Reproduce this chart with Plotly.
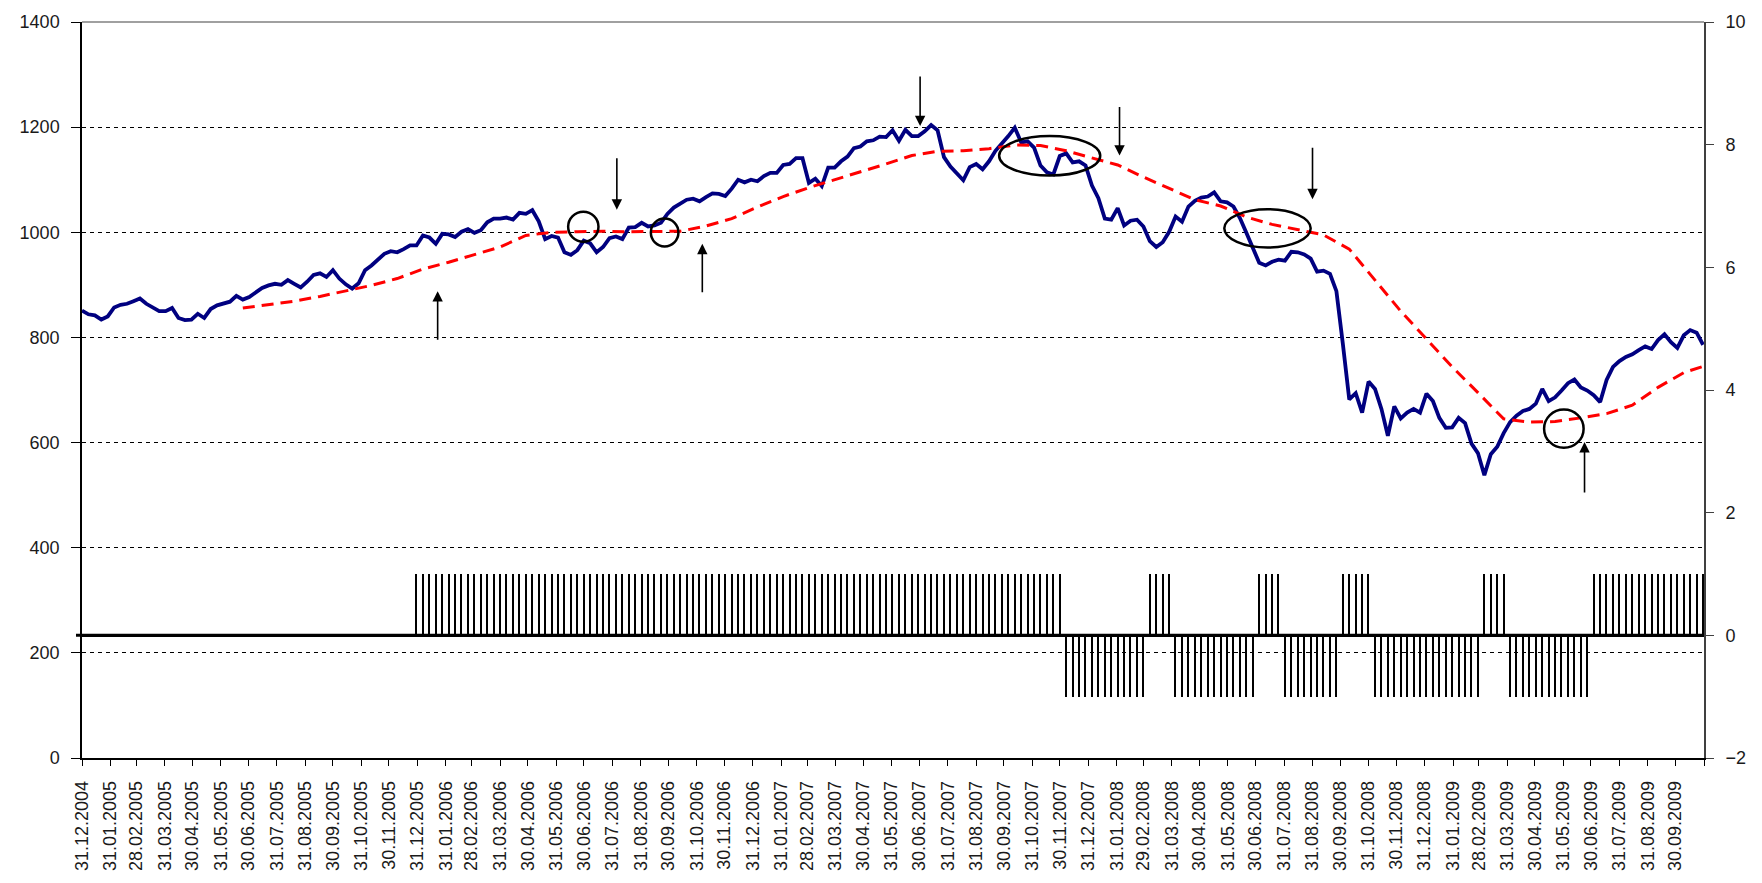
import pandas as pd
import plotly.graph_objects as go

# ---------------- data ----------------
START = "2004-12-31"          # first weekly observation (Fridays)

# weekly index level, left axis
PRICE = [
    851, 844, 842, 834, 840, 857, 862, 864, 869, 874,
    864, 857, 850, 850, 856, 837, 833, 834, 845, 837,
    854, 861, 864, 868, 879, 872, 877, 886, 894, 899,
    902, 900, 909, 902, 895, 906, 919, 922, 915, 928,
    912, 901, 893, 903, 928, 937, 948, 959, 964, 962,
    968, 975, 975, 994, 990, 978, 997, 996, 991, 1001,
    1006, 999, 1004, 1019, 1026, 1026, 1028, 1024, 1037, 1035,
    1042, 1021, 987, 993, 990, 962, 957, 966, 984, 979,
    962, 972, 989, 992, 987, 1009, 1010, 1018, 1011, 1013,
    1018, 1035, 1047, 1055, 1062, 1064, 1059, 1067, 1074, 1073,
    1069, 1083, 1100, 1095, 1100, 1097, 1107, 1113, 1113, 1128,
    1130, 1141, 1141, 1094, 1102, 1088, 1123, 1123, 1135, 1144,
    1160, 1163, 1173, 1175, 1182, 1181, 1194, 1174, 1195, 1183,
    1183, 1192, 1204, 1194, 1143, 1125, 1112, 1099, 1124, 1130,
    1120, 1135, 1155, 1168, 1183, 1199, 1171, 1173, 1161, 1127,
    1114, 1110, 1145, 1150, 1133, 1135, 1127, 1089, 1065, 1026,
    1024, 1046, 1013, 1022, 1024, 1011, 983, 972, 981, 1001,
    1030, 1020, 1049, 1060, 1066, 1068, 1076, 1059, 1057, 1049,
    1027, 999, 969, 942, 937, 944, 948, 946, 963, 962,
    958, 950, 925, 927, 921, 888, 788, 682, 694, 657,
    716, 702, 664, 613, 669, 646, 657, 664, 657, 693,
    679, 647, 628, 629, 647, 637, 598, 580, 538, 578,
    592, 618, 639, 651, 660, 664, 674, 702, 679, 686,
    699, 713, 720, 705, 699, 690, 677, 719, 744, 755,
    763, 768, 776, 783, 778, 795, 806, 791, 780, 804,
    814, 809, 786,
]

# moving average (red dashed), read every 4th week
MA_WEEK = [25, 29, 33, 37, 41, 45, 49, 53, 57, 61, 65, 69, 73, 77, 81, 85,
           89, 93, 97, 101, 105, 109, 113, 117, 121, 125, 129, 133, 137,
           141, 145, 149, 153, 157, 161, 165, 169, 173, 177, 181, 185, 189,
           193, 197, 201, 205, 209, 213, 217, 221, 225, 229, 233, 237, 241,
           245, 249, 252]
MA_VALUE = [856, 862, 869, 878, 888, 899, 912, 930, 943, 957, 972, 994,
            1000, 1001, 1002, 1001, 1001, 1002, 1012, 1026, 1048, 1068,
            1085, 1100, 1114, 1130, 1146, 1154, 1155, 1159, 1166, 1165,
            1155, 1142, 1128, 1105, 1084, 1062, 1050, 1029, 1015, 1005,
            995, 968, 909, 850, 797, 744, 695, 645, 639, 640, 647, 655,
            671, 705, 733, 745]

# trading signal (right axis), weekly from week 52 on
SIGNAL_START_WEEK = 52
SIGNAL = [
    1, 1, 1, 1, 1, 1, 1, 1, 1, 1,
    1, 1, 1, 1, 1, 1, 1, 1, 1, 1,
    1, 1, 1, 1, 1, 1, 1, 1, 1, 1,
    1, 1, 1, 1, 1, 1, 1, 1, 1, 1,
    1, 1, 1, 1, 1, 1, 1, 1, 1, 1,
    1, 1, 1, 1, 1, 1, 1, 1, 1, 1,
    1, 1, 1, 1, 1, 1, 1, 1, 1, 1,
    1, 1, 1, 1, 1, 1, 1, 1, 1, 1,
    1, 1, 1, 1, 1, 1, 1, 1, 1, 1,
    1, 1, 1, 1, 1, 1, 1, 1, 1, 1,
    1,
    -1, -1, -1, -1, -1, -1, -1, -1, -1, -1, -1, -1, -1,
    1, 1, 1, 1,
    -1, -1, -1, -1, -1, -1, -1, -1, -1, -1, -1, -1, -1,
    1, 1, 1, 1,
    -1, -1, -1, -1, -1, -1, -1, -1, -1,
    1, 1, 1, 1, 1,
    -1, -1, -1, -1, -1, -1, -1, -1, -1, -1, -1, -1, -1, -1, -1, -1, -1,
    1, 1, 1, 1,
    -1, -1, -1, -1, -1, -1, -1, -1, -1, -1, -1, -1, -1,
    1, 1, 1, 1, 1, 1, 1, 1, 1, 1, 1, 1, 1, 1, 1, 1, 1, 1,
]

TICK_LABELS = [
    "31.12.2004", "31.01.2005", "28.02.2005", "31.03.2005", "30.04.2005",
    "31.05.2005", "30.06.2005", "31.07.2005", "31.08.2005", "30.09.2005",
    "31.10.2005", "30.11.2005", "31.12.2005", "31.01.2006", "28.02.2006",
    "31.03.2006", "30.04.2006", "31.05.2006", "30.06.2006", "31.07.2006",
    "31.08.2006", "30.09.2006", "31.10.2006", "30.11.2006", "31.12.2006",
    "31.01.2007", "28.02.2007", "31.03.2007", "30.04.2007", "31.05.2007",
    "30.06.2007", "31.07.2007", "31.08.2007", "30.09.2007", "31.10.2007",
    "30.11.2007", "31.12.2007", "31.01.2008", "29.02.2008", "31.03.2008",
    "30.04.2008", "31.05.2008", "30.06.2008", "31.07.2008", "31.08.2008",
    "30.09.2008", "31.10.2008", "30.11.2008", "31.12.2008", "31.01.2009",
    "28.02.2009", "31.03.2009", "30.04.2009", "31.05.2009", "30.06.2009",
    "31.07.2009", "31.08.2009", "30.09.2009",
]
AXIS_END = "31.10.2009"

# ---------------- build ----------------
weeks = pd.date_range(START, periods=len(PRICE), freq="7D")
ma_dates = [weeks[i] for i in MA_WEEK]
sig_dates = weeks[SIGNAL_START_WEEK:SIGNAL_START_WEEK + len(SIGNAL)]
tick_dates = list(pd.to_datetime(TICK_LABELS + [AXIS_END], format="%d.%m.%Y"))
tick_text = TICK_LABELS + [""]

FONT = dict(family="Arial, Liberation Sans, sans-serif", size=18, color="#1a1a1a")

fig = go.Figure()
fig.add_trace(go.Bar(x=sig_dates, y=SIGNAL, yaxis="y2", width=1.3 * 86400000,
                     marker=dict(color="black", line=dict(width=0)),
                     showlegend=False, hoverinfo="skip"))
fig.add_trace(go.Scatter(x=weeks, y=PRICE, mode="lines",
                         line=dict(color="#000080", width=3.8),
                         showlegend=False))
fig.add_trace(go.Scatter(x=ma_dates, y=MA_VALUE, mode="lines",
                         line=dict(color="#ff0000", width=3, dash="12px,7px"),
                         showlegend=False))

# arrows: (tip date, tip value, tail offset in px: +down / -up)
ARROWS = [
    ("2006-01-22", 888, 50),
    ("2006-08-05", 1043, -53),
    ("2006-11-06", 978, 50),
    ("2007-07-01", 1202, -51),
    ("2008-02-03", 1146, -50),
    ("2008-08-31", 1063, -53),
    ("2009-06-23", 601, 52),
]
annotations = []
for d, v, off in ARROWS:
    annotations.append(dict(x=d, y=v, xref="x", yref="y", text="",
                            showarrow=True, arrowhead=2, arrowsize=1.3,
                            arrowwidth=1.6, arrowcolor="black",
                            ax=0, ay=off, standoff=0))

# ellipses: (x0, x1, y0, y1)
ELLIPSES = [
    ("2006-06-13", "2006-07-16", 982, 1039),
    ("2006-09-11", "2006-10-11", 973, 1026),
    ("2007-09-25", "2008-01-13", 1108, 1183),
    ("2008-05-27", "2008-08-29", 971, 1044),
    ("2009-05-10", "2009-06-22", 590, 663),
]
shapes = []
for x0, x1, y0, y1 in ELLIPSES:
    shapes.append(dict(type="circle", xref="x", yref="y", x0=x0, x1=x1,
                       y0=y0, y1=y1, line=dict(color="black", width=2.5),
                       layer="above"))
# gray plot-area top border
shapes.append(dict(type="line", xref="paper", yref="paper", x0=0, x1=1,
                   y0=1, y1=1, line=dict(color="#808080", width=1.5)))
# signal base line (reaches slightly left of the value axis)
shapes.append(dict(type="line", xref="paper", yref="y2", x0=-0.0037, x1=1,
                   y0=0, y1=0, line=dict(color="black", width=3),
                   layer="below"))

fig.update_layout(
    width=1762, height=883, autosize=False,
    margin=dict(l=82, r=58, t=16, b=118, pad=0),
    paper_bgcolor="white", plot_bgcolor="white",
    font=FONT, bargap=0, showlegend=False,
    annotations=annotations, shapes=shapes,
    xaxis=dict(type="date", range=[START, "2009-10-31"],
               tickmode="array", tickvals=tick_dates, ticktext=tick_text,
               tickangle=-90, ticks="outside", ticklen=6, tickcolor="black",
               tickwidth=1, showline=True, linecolor="black", linewidth=1.5,
               showgrid=False, zeroline=False, tickfont=FONT,
               ticklabelstandoff=8),
    yaxis=dict(range=[0, 1400], tickmode="linear", tick0=0, dtick=200,
               ticks="outside", ticklen=9, tickcolor="black", tickwidth=1,
               showline=True, linecolor="black", linewidth=1.5,
               showgrid=True, gridcolor="black", gridwidth=1,
               griddash="4px,4px", zeroline=False, tickfont=FONT,
               ticklabelstandoff=8),
    yaxis2=dict(range=[-2, 10], overlaying="y", side="right",
                tickmode="linear", tick0=-2, dtick=2, ticks="outside",
                ticklen=8, tickcolor="#404040", tickwidth=1,
                showline=True, linecolor="#404040", linewidth=2,
                showgrid=False, zeroline=True, zerolinecolor="black",
                zerolinewidth=3, tickfont=FONT, ticklabelstandoff=8),
)

fig.write_html("out.html", config={"displayModeBar": False},
               post_script="document.body.style.margin='0px';"
                           "document.body.style.overflow='hidden';")
